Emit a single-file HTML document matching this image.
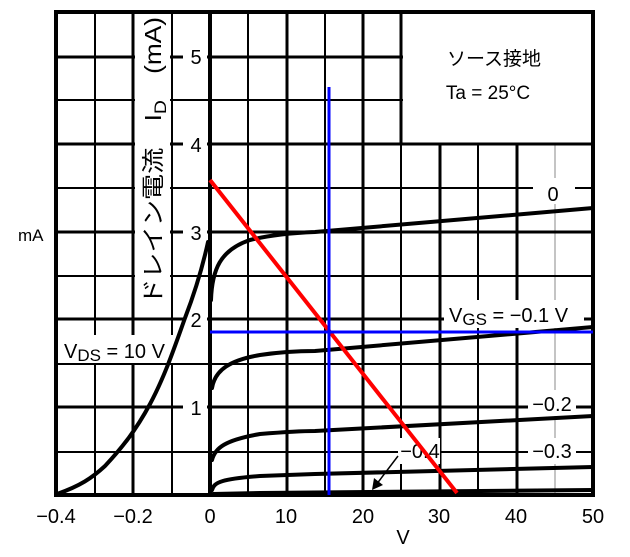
<!DOCTYPE html>
<html><head><meta charset="utf-8"><style>
html,body{margin:0;padding:0;background:#fff;}
svg{display:block;}
text{font-family:"Liberation Sans","Noto Sans CJK JP",sans-serif;fill:#000;}
</style></head><body>
<svg width="630" height="557" viewBox="0 0 630 557" xmlns="http://www.w3.org/2000/svg">
<rect width="630" height="557" fill="#fff"/>
<g stroke="#000" stroke-width="2">
<line x1="95" y1="12" x2="95" y2="495"/>
<line x1="172" y1="12" x2="172" y2="495"/>
<line x1="248" y1="12" x2="248" y2="495"/>
<line x1="325" y1="12" x2="325" y2="495"/>
<line x1="401" y1="12" x2="401" y2="495"/>
<line x1="478" y1="144" x2="478" y2="495"/>
</g>
<line x1="555" y1="144" x2="555" y2="495" stroke="#888" stroke-width="1"/>
<g stroke="#000" stroke-width="3">
<line x1="133" y1="12" x2="133" y2="495"/>
<line x1="287" y1="12" x2="287" y2="495"/>
<line x1="363" y1="12" x2="363" y2="495"/>
<line x1="440" y1="144" x2="440" y2="495"/>
<line x1="517" y1="144" x2="517" y2="495"/>
</g>
<g stroke="#000" stroke-width="2">
<line x1="55" y1="100" x2="593" y2="100"/>
<line x1="55" y1="188" x2="593" y2="188"/>
<line x1="55" y1="276" x2="593" y2="276"/>
<line x1="55" y1="364" x2="593" y2="364"/>
<line x1="55" y1="452" x2="593" y2="452"/>
</g>
<g stroke="#000" stroke-width="3">
<line x1="55" y1="57" x2="593" y2="57"/>
<line x1="55" y1="144" x2="593" y2="144"/>
<line x1="55" y1="232" x2="593" y2="232"/>
<line x1="55" y1="319" x2="593" y2="319"/>
<line x1="55" y1="407" x2="593" y2="407"/>
</g>
<rect x="135" y="14" width="35" height="292" fill="#fff"/>
<rect x="403" y="14" width="188" height="128" fill="#fff"/>
<line x1="401" y1="12" x2="401" y2="144" stroke="#000" stroke-width="3"/>
<rect x="183" y="45" width="24" height="24" fill="#fff"/>
<rect x="183" y="132" width="24" height="24" fill="#fff"/>
<rect x="183" y="220" width="24" height="24" fill="#fff"/>
<rect x="183" y="307" width="24" height="24" fill="#fff"/>
<rect x="183" y="395" width="24" height="24" fill="#fff"/>
<rect x="56" y="12" width="537" height="483" fill="none" stroke="#000" stroke-width="4"/>
<line x1="210" y1="12" x2="210" y2="495" stroke="#000" stroke-width="4"/>
<rect x="533" y="178" width="42" height="26" fill="#fff"/>
<rect x="444" y="300" width="140" height="28" fill="#fff"/>
<rect x="528" y="390" width="48" height="26" fill="#fff"/>
<rect x="528" y="438" width="48" height="26" fill="#fff"/>
<rect x="398" y="438" width="42" height="26" fill="#fff"/>
<rect x="62" y="335" width="112" height="28" fill="#fff"/>
<g font-size="20">
<text x="196" y="64" text-anchor="middle">5</text>
<text x="196" y="152" text-anchor="middle">4</text>
<text x="196" y="240" text-anchor="middle">3</text>
<text x="196" y="327" text-anchor="middle">2</text>
<text x="196" y="415" text-anchor="middle">1</text>
<text x="56" y="523" text-anchor="middle">−0.4</text>
<text x="133" y="523" text-anchor="middle">−0.2</text>
<text x="210" y="523" text-anchor="middle">0</text>
<text x="286" y="523" text-anchor="middle">10</text>
<text x="363" y="523" text-anchor="middle">20</text>
<text x="439" y="523" text-anchor="middle">30</text>
<text x="516" y="523" text-anchor="middle">40</text>
<text x="593" y="523" text-anchor="middle">50</text>
<text x="403" y="544" text-anchor="middle">V</text>
</g>
<text x="18" y="241" font-size="17">mA</text>
<text transform="translate(161,305) rotate(-90)" font-size="23" textLength="288" lengthAdjust="spacingAndGlyphs">ドレイン電流　I<tspan font-size="17" dy="5">D</tspan><tspan dy="-5">　(mA)</tspan></text>
<text x="494" y="65" font-size="19" text-anchor="middle">ソース接地</text>
<text x="488" y="99" font-size="19" text-anchor="middle">Ta = 25°C</text>
<g font-size="20">
<text x="553" y="201" text-anchor="middle">0</text>
<text x="449" y="322">V<tspan font-size="17" dy="3">GS</tspan><tspan dy="-3"> = −0.1 V</tspan></text>
<text x="552" y="411" text-anchor="middle">−0.2</text>
<text x="552" y="458" text-anchor="middle">−0.3</text>
<text x="420" y="458" text-anchor="middle">−0.4</text>
<text x="64" y="358">V<tspan font-size="17" dy="3">DS</tspan><tspan dy="-3"> = 10 V</tspan></text>
</g>
<line x1="398" y1="456" x2="376" y2="485" stroke="#000" stroke-width="1.5"/>
<polygon points="372,490 374,478 383,485" fill="#000"/>
<g fill="none" stroke="#000" stroke-width="4" stroke-linecap="round">
<path d="M57,494 C80,486 92,478 105,466 C120,450 135,432 150,404 C165,376 175,346 185,318 C195,292 203,265 208,242"/>
<path d="M211,300 C212,270 220,250 250,240 C270,235 290,233 315,232 L593,208"/>
<path d="M212,388 C215,370 230,360 260,355 C280,352 300,351 315,351 L593,327"/>
<path d="M212,460 C215,448 225,440 260,434 C285,432 300,431 315,431 L593,416"/>
<path d="M212,490 C214,482 222,479 260,476 L315,474 L593,467"/>
<path d="M213,494 L260,493 L593,490"/>
</g>
<line x1="210" y1="180" x2="457" y2="493" stroke="#f00" stroke-width="4"/>
<line x1="329" y1="87" x2="329" y2="495" stroke="#00f" stroke-width="3"/>
<line x1="210" y1="332" x2="593" y2="332" stroke="#00f" stroke-width="3"/>
</svg>
</body></html>
